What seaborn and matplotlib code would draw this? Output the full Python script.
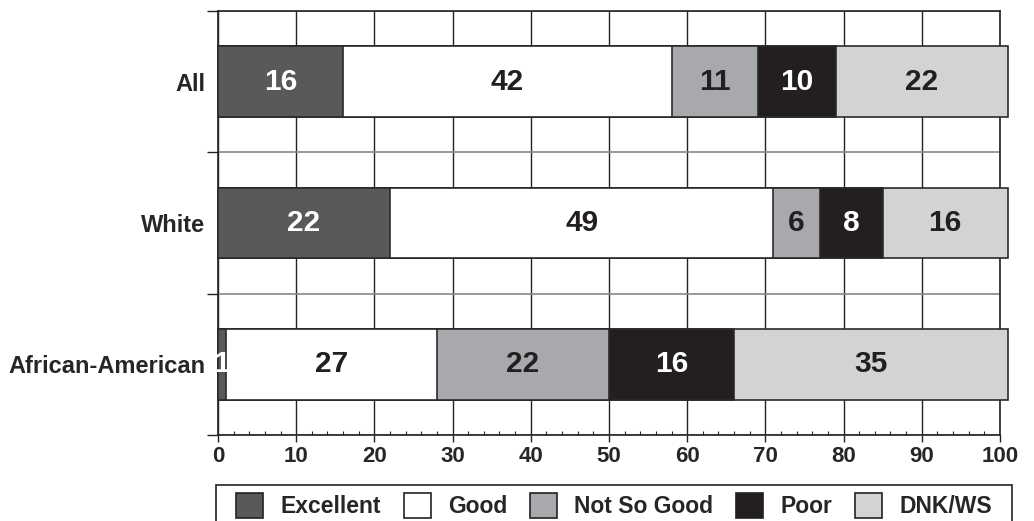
import numpy as np
import pandas as pd
import seaborn as sns
import matplotlib.pyplot as plt
from matplotlib.patches import Patch, Rectangle
from matplotlib.ticker import MultipleLocator, FixedLocator

# data (percent)
groups = ["All", "White", "African-American"]
ratings = ["Excellent", "Good", "Not So Good", "Poor", "DNK/WS"]
excellent = [16, 22, 1]
good = [42, 49, 27]
not_so_good = [11, 6, 22]
poor = [10, 8, 16]
dnk_ws = [22, 16, 35]

colors = ["#58595b", "#ffffff", "#a7a9ac", "#231f20", "#d1d3d4"]
label_colors = ["white", "#231f20", "#231f20", "white", "#231f20"]

sns.set_style("white")
plt.rcParams["font.family"] = ["Liberation Sans", "DejaVu Sans"]
plt.rcParams["font.weight"] = "bold"

df = pd.DataFrame({"group": groups, "Excellent": excellent, "Good": good,
                   "Not So Good": not_so_good, "Poor": poor, "DNK/WS": dnk_ws})
cum = df[ratings].cumsum(axis=1)
left = cum - df[ratings]

fig = plt.figure(figsize=(10.34, 5.21), dpi=100)
ax = fig.add_axes([0.2108, 0.1651, 0.7563, 0.8138])
ax.set_axisbelow(True)

# stacked bars: longest cumulative first, shorter ones drawn on top
for r, c in reversed(list(zip(ratings, colors))):
    sns.barplot(x=cum[r], y=df["group"], color=c, width=0.5, saturation=1,
                errorbar=None, edgecolor="#2b2b2b", linewidth=1.2, orient="h", ax=ax)
for p in ax.patches:
    p.set_clip_on(False)
    p.set_zorder(3)

for i in range(len(groups)):
    for r, tc in zip(ratings, label_colors):
        v = df.loc[i, r]
        ax.text(left.loc[i, r] + v / 2, i, str(v), ha="center", va="center",
                color=tc, fontsize=21.5, fontweight="bold", clip_on=False, zorder=4)

ax.set_xlim(0, 100)
ax.set_ylim(2.5, -0.5)
ax.set_xlabel("")
ax.set_ylabel("")

ax.xaxis.set_major_locator(MultipleLocator(10))
ax.xaxis.set_minor_locator(MultipleLocator(2))
ax.yaxis.set_minor_locator(FixedLocator([-0.5, 0.5, 1.5, 2.5]))
ax.tick_params(axis="x", which="major", bottom=True, direction="out", length=5, width=1,
               color="#222", labelsize=16, pad=3)
ax.tick_params(axis="x", which="minor", bottom=True, direction="in", length=3, width=0.8, color="#222")
ax.tick_params(axis="y", which="major", left=True, length=0, labelsize=17, pad=9)
ax.tick_params(axis="y", which="minor", left=True, direction="out", length=8, width=1, color="#222")
ax.grid(axis="x", which="major", color="#222", lw=1)
ax.grid(axis="y", which="minor", color="#888", lw=1.2)
for s in ax.spines.values():
    s.set_visible(True)
    s.set_color("#222")
    s.set_linewidth(1.2)

handles = [Patch(facecolor=c, edgecolor="#222", lw=1.2, label=r) for r, c in zip(ratings, colors)]
leg = fig.legend(handles=handles, loc="upper left",
                 bbox_to_anchor=(236 / 1034, 0, 756 / 1034, 1 - 493 / 521),
                 mode="expand", ncol=5, frameon=False, fontsize=16.5, handlelength=1.18,
                 handleheight=1.3, handletextpad=0.75, borderaxespad=0, borderpad=0)
# legend box (bottom is cut off by the figure edge)
fig.add_artist(Rectangle((216 / 1034, -0.05), 796 / 1034, 0.05 + 1 - 485 / 521,
                         transform=fig.transFigure, fill=False, edgecolor="#222", lw=1.2))

fig.savefig("out.png", dpi=100)
